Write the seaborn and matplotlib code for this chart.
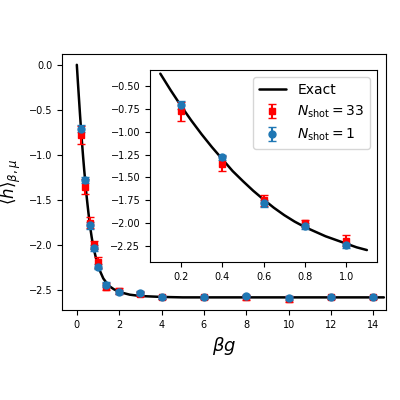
import matplotlib
matplotlib.use("Agg")
import matplotlib.pyplot as plt
import seaborn as sns

sns.set_style("ticks")
plt.rcParams['font.family'] = ['DejaVu Sans']
plt.rcParams['mathtext.fontset'] = 'dejavusans'
for k in ['xtick.color', 'ytick.color', 'axes.labelcolor', 'axes.edgecolor', 'text.color']:
    plt.rcParams[k] = 'black'

exact_x = [0, 0.05, 0.1, 0.15, 0.2, 0.25, 0.3, 0.35, 0.4, 0.45, 0.5, 0.55, 0.6, 0.65, 0.7, 0.75, 0.8,
           0.85, 0.9, 0.95, 1.0, 1.05, 1.1, 1.25, 1.5, 1.75, 2, 2.5, 3, 4, 5, 6, 8, 10, 12, 14, 14.5]
exact_y = [0, -0.19, -0.37, -0.55, -0.72, -0.88, -1.03, -1.17, -1.30, -1.43, -1.54, -1.645, -1.74, -1.83,
           -1.91, -1.98, -2.04, -2.09, -2.14, -2.18, -2.22, -2.26, -2.29, -2.37, -2.45, -2.49, -2.52, -2.55,
           -2.565, -2.575, -2.58, -2.58, -2.58, -2.58, -2.58, -2.58, -2.58]

bx = [0.2, 0.4, 0.6, 0.8, 1.0, 1.4, 2, 3, 4, 6, 8, 10, 12, 14]
red_y = [-0.78, -1.35, -1.75, -2.00, -2.19, -2.46, -2.51, -2.54, -2.58, -2.58, -2.58, -2.60, -2.58, -2.58]
red_e = [0.10, 0.08, 0.06, 0.04, 0.06, 0.04, 0.03, 0.02, 0.02, 0.02, 0.03, 0.03, 0.02, 0.02]
blue_y = [-0.71, -1.28, -1.78, -2.03, -2.24, -2.44, -2.52, -2.53, -2.58, -2.58, -2.57, -2.59, -2.58, -2.58]
blue_e = [0.04, 0.03, 0.04, 0.03, 0.03, 0.03, 0.02, 0.02, 0.02, 0.02, 0.02, 0.02, 0.02, 0.02]

fig = plt.figure(figsize=(4, 4), dpi=100)
ax = fig.add_axes([0.155, 0.225, 0.81, 0.64])

def draw(a, xmin, xmax):
    ex = [(x, y) for x, y in zip(exact_x, exact_y) if xmin <= x <= xmax]
    sns.lineplot(x=[p[0] for p in ex], y=[p[1] for p in ex], ax=a, color='black', lw=1.8,
                 label='Exact', sort=False)
    idx = [i for i, x in enumerate(bx) if x <= xmax]
    a.errorbar([bx[i] for i in idx], [red_y[i] for i in idx], yerr=[red_e[i] for i in idx],
               fmt='s', color='red', ms=5, capsize=3, label=r'$N_{\rm shot}=33$')
    a.errorbar([bx[i] for i in idx], [blue_y[i] for i in idx], yerr=[blue_e[i] for i in idx],
               fmt='o', color='#1f77b4', ms=5, capsize=3, label=r'$N_{\rm shot}=1$')

draw(ax, 0, 100)
ax.get_legend().remove()
ax.set_xlim(-0.7, 14.6)
ax.set_ylim(-2.72, 0.12)
ax.set_xticks([0, 2, 4, 6, 8, 10, 12, 14])
ax.set_yticks([0.0, -0.5, -1.0, -1.5, -2.0, -2.5])
ax.tick_params(labelsize=7)
ax.set_xlabel(r'$\beta g$', fontsize=13)
ax.set_ylabel(r'$\langle h\rangle_{\beta,\mu}$', fontsize=12)

ins = fig.add_axes([0.375, 0.345, 0.568, 0.48])
draw(ins, 0.1, 1.1)
ins.set_xlim(0.05, 1.15)
ins.set_ylim(-2.42, -0.33)
ins.set_xticks([0.2, 0.4, 0.6, 0.8, 1.0])
ins.set_yticks([-0.5, -0.75, -1.0, -1.25, -1.5, -1.75, -2.0, -2.25])
ins.tick_params(labelsize=7)
ins.legend(loc='upper right', fontsize=10)

fig.savefig('out.png', dpi=100)
